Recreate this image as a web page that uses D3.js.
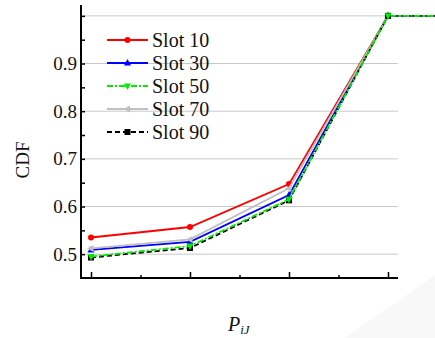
<!DOCTYPE html>
<html lang="en">
<head>
    <meta charset="UTF-8">
    <title>CDF</title>
    <script src="https://d3js.org/d3.v7.min.js"></script>
    <style>
        html, body{ margin:0; background:#fff; }
        svg text{ font-family: "Liberation Serif", "Times New Roman", serif; fill:#111; }
        .grid line{ stroke:#c8c8c8; stroke-width:1; }
    </style>
</head>
<body>
<div id="chart"></div>
<script>
    // categories along x (the 5th one sits past the right edge of the frame)
    var categories = ["c1", "c2", "c3", "c4", "c5"];
    var seriesNames = ["Slot 10", "Slot 30", "Slot 50", "Slot 70", "Slot 90"];
    var slot10 = [0.535, 0.557, 0.647, 1.0, 1.0];
    var slot30 = [0.509, 0.526, 0.624, 1.0, 1.0];
    var slot50 = [0.495, 0.517, 0.615, 1.0, 1.0];
    var slot70 = [0.512, 0.531, 0.638, 1.0, 1.0];
    var slot90 = [0.493, 0.513, 0.613, 1.0, 1.0];
    var yTicks = [0.5, 0.6, 0.7, 0.8, 0.9, 1.0];
    var yTickLabels = ["0.5", "0.6", "0.7", "0.8", "0.9", ""];

    var styles = [
        {color:"#ff0000", dash:null, marker:"circle"},
        {color:"#0000ff", dash:null, marker:"up"},
        {color:"#00ee00", dash:"6,2,2,2", marker:"down"},
        {color:"#c0c0c0", dash:null, marker:"left"},
        {color:"#000000", dash:"5,3", marker:"square"}
    ];
    var allSeries = [slot10, slot30, slot50, slot70, slot90];
    var drawOrder = [0, 1, 3, 4, 2];

    var W = 435, H = 338;
    var pLeft = 81, pRight = 398, pTop = 5, pBottom = 278;

    var svg = d3.select("#chart").append("svg")
        .attr("width", W).attr("height", H);

    // faint corner shade
    svg.append("path")
        .attr("d", "M345,338 L435,275 L435,338 Z")
        .attr("fill", "#f8f8f8");

    var x = d3.scaleLinear().domain([0, 3]).range([91, 388]);
    var y = d3.scaleLinear().domain([0.45, 1.0228]).range([pBottom, pTop]);

    // gridlines
    svg.append("g").attr("class", "grid")
        .selectAll("line").data(yTicks).enter().append("line")
        .attr("x1", pLeft).attr("x2", pRight)
        .attr("y1", function(d){ return y(d); })
        .attr("y2", function(d){ return y(d); });

    // y axis with inward ticks
    var yAxis = svg.append("g").attr("transform", "translate(" + pLeft + ",0)");
    yAxis.call(d3.axisRight(y).tickValues(d3.range(0.5, 1.01, 0.05)).tickSize(4).tickFormat(""));
    yAxis.select(".domain").remove();
    yAxis.selectAll("line").attr("stroke", "#000").attr("stroke-width", 1.5);
    svg.append("line").attr("x1", pLeft).attr("x2", pLeft).attr("y1", pTop).attr("y2", pBottom + 1)
        .attr("stroke", "#000").attr("stroke-width", 2);
    svg.selectAll(".ylab").data(yTicks).enter().append("text")
        .attr("class", "ylab")
        .attr("x", pLeft - 4).attr("y", function(d){ return y(d) + 6.5; })
        .attr("text-anchor", "end").attr("font-size", 19)
        .text(function(d, i){ return yTickLabels[i]; });

    // x axis with inward ticks, no labels
    var xAxis = svg.append("g").attr("transform", "translate(0," + pBottom + ")");
    xAxis.call(d3.axisTop(x).tickValues([0, 1, 2, 3]).tickSize(6).tickFormat(""));
    xAxis.select(".domain").remove();
    xAxis.selectAll("line").attr("stroke", "#000").attr("stroke-width", 1.5);
    var xMinor = svg.append("g").attr("transform", "translate(0," + pBottom + ")");
    xMinor.call(d3.axisTop(x).tickValues([0.5, 1.5, 2.5]).tickSize(3).tickFormat(""));
    xMinor.select(".domain").remove();
    xMinor.selectAll("line").attr("stroke", "#000").attr("stroke-width", 1.5);
    svg.append("line").attr("x1", pLeft).attr("x2", pRight).attr("y1", pBottom).attr("y2", pBottom)
        .attr("stroke", "#000").attr("stroke-width", 2);

    // axis titles
    svg.append("text")
        .attr("transform", "translate(29,160) rotate(-90)")
        .attr("text-anchor", "middle").attr("font-size", 19)
        .text("CDF");
    var xt = svg.append("text").attr("x", 228).attr("y", 331)
        .attr("font-size", 20).attr("font-style", "italic");
    xt.append("tspan").text("P");
    xt.append("tspan").attr("font-size", 13).attr("dy", 3).text("iJ");

    var line = d3.line()
        .x(function(d, i){ return x(i); })
        .y(function(d){ return y(d); });

    function marker(g, type, color, cx, cy) {
        var s = 3.5;
        if (type === "circle") {
            g.append("circle").attr("cx", cx).attr("cy", cy).attr("r", 3).attr("fill", color);
        } else if (type === "square") {
            g.append("rect").attr("x", cx - 3).attr("y", cy - 3).attr("width", 6).attr("height", 6).attr("fill", color);
        } else {
            var pts;
            if (type === "up") pts = [[cx, cy - s - 0.5], [cx - s, cy + s - 1], [cx + s, cy + s - 1]];
            if (type === "down") pts = [[cx, cy + s + 0.5], [cx - s, cy - s + 1], [cx + s, cy - s + 1]];
            if (type === "left") pts = [[cx - s - 0.5, cy], [cx + s - 1, cy - s], [cx + s - 1, cy + s]];
            g.append("polygon").attr("points", pts.map(function(p){ return p.join(","); }).join(" "))
                .attr("fill", color);
        }
    }

    // series
    drawOrder.forEach(function(k) {
        var vals = allSeries[k];
        var st = styles[k];
        var g = svg.append("g");
        g.append("path").datum(vals)
            .attr("d", line)
            .attr("fill", "none")
            .attr("stroke", st.color)
            .attr("stroke-width", 1.8)
            .attr("stroke-dasharray", st.dash);
        vals.forEach(function(v, i){ marker(g, st.marker, st.color, x(i), y(v)); });
    });

    // legend
    var leg = svg.append("g");
    seriesNames.forEach(function(name, k) {
        var st = styles[k];
        var ly = 40 + k * 23;
        leg.append("line").attr("x1", 107).attr("x2", 148).attr("y1", ly).attr("y2", ly)
            .attr("stroke", st.color).attr("stroke-width", 1.8)
            .attr("stroke-dasharray", st.dash);
        marker(leg, st.marker, st.color, 127.5, ly);
        leg.append("text").attr("x", 152).attr("y", ly + 6.5)
            .attr("font-size", 20).text(name);
    });
</script>
</body>
</html>
